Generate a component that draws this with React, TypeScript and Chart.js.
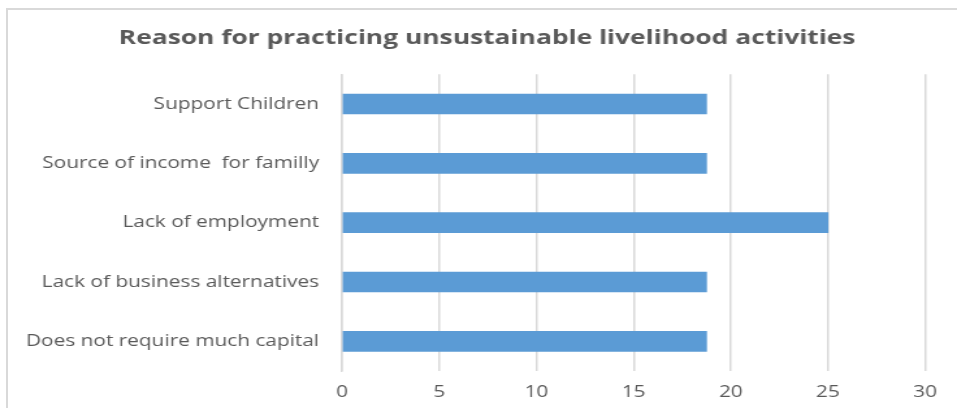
import React, { useEffect, useRef } from "react";
import { Chart, registerables } from "chart.js";

Chart.register(...registerables);

const categories: string[] = [
  "Support Children",
  "Source of income  for familly",
  "Lack of employment",
  "Lack of business alternatives",
  "Does not require much capital",
];
const values: number[] = [18.75, 18.75, 25, 18.75, 18.75];
const xTicks: number[] = [0, 5, 10, 15, 20, 25, 30];
const titleText = "Reason for practicing unsustainable livelihood activities";

// The reference image is horizontally stretched; render narrower and stretch by CSS.
const STRETCH = 1.3;
const CANVAS_W = 736;
const CANVAS_H = 408;

export default function App() {
  const ref = useRef<HTMLCanvasElement | null>(null);

  useEffect(() => {
    document.body.style.margin = "0";
    const ctx = ref.current;
    if (!ctx) return;
    const chart = new Chart(ctx, {
      type: "bar",
      data: {
        labels: categories,
        datasets: [
          {
            data: values,
            backgroundColor: "#5b9bd5",
            borderWidth: 0,
            barThickness: 20,
            xAxisID: "x",
            yAxisID: "y",
          },
        ],
      },
      options: {
        indexAxis: "y",
        animation: false,
        responsive: false,
        maintainAspectRatio: false,
        devicePixelRatio: 1,
        layout: { padding: { left: 13.2, right: 0, top: 0, bottom: 0 } },
        plugins: {
          legend: { display: false },
          tooltip: { enabled: false },
          title: {
            display: true,
            text: titleText,
            color: "#595959",
            font: { family: "'Open Sans'", size: 20.3, weight: "bold", lineHeight: 1.2 },
            padding: { top: 26, bottom: 24 },
          },
        },
        scales: {
          x: {
            min: 0,
            max: 30,
            afterBuildTicks: (scale: any) => {
              scale.ticks = xTicks.map((v) => ({ value: v }));
            },
            afterFit: (scale: any) => {
              scale.height = 37;
            },
            grid: { color: "#d9d9d9", lineWidth: 1.5, drawTicks: false },
            border: { display: false },
            ticks: {
              color: "#595959",
              font: { family: "'Open Sans'", size: 16, lineHeight: 1.2 },
              padding: 12,
            },
          },
          y: {
            position: "left",
            afterFit: (scale: any) => {
              scale.width = 249.9;
            },
            grid: { display: false, drawTicks: false },
            border: { display: true, color: "#d9d9d9", width: 1.5 },
            ticks: {
              color: "#595959",
              font: { family: "'Open Sans'", size: 16 },
              padding: 17.7,
            },
          },
          yRight: {
            type: "category",
            position: "right",
            afterFit: (scale: any) => {
              scale.width = 24.5;
            },
            grid: { display: false, drawTicks: false },
            border: { display: false },
            ticks: { display: false },
          },
        },
      },
    });
    return () => chart.destroy();
  }, []);

  return (
    <div style={{ position: "relative", width: 957, height: 408, overflow: "hidden", background: "#fff" }}>
      <div
        style={{
          position: "absolute",
          left: 6,
          top: 8,
          width: 1000,
          height: 500,
          border: "2px solid #d9d9d9",
        }}
      />
      <canvas
        ref={ref}
        width={CANVAS_W}
        height={CANVAS_H}
        style={{ position: "absolute", left: 0, top: 0, width: CANVAS_W * STRETCH, height: CANVAS_H }}
      />
    </div>
  );
}
